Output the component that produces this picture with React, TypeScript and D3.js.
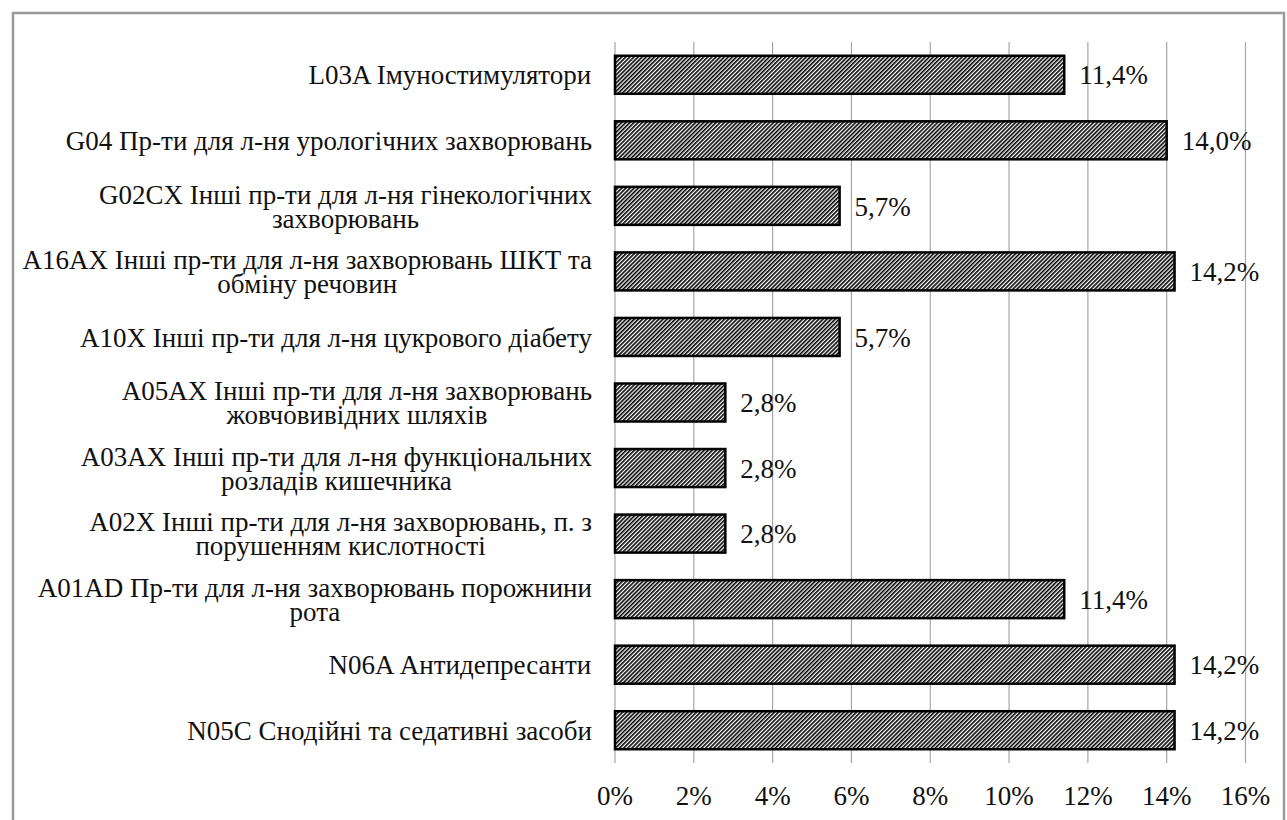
import { useMemo } from "react";
import * as d3 from "d3";

const LABELS: string[][] = [
  ["L03A Імуностимулятори"],
  ["G04 Пр-ти для л-ня урологічних захворювань"],
  ["G02CX Інші пр-ти для л-ня гінекологічних", "захворювань"],
  ["A16AX Інші пр-ти для л-ня захворювань ШКТ та", "обміну речовин"],
  ["A10X Інші пр-ти для л-ня цукрового діабету"],
  ["A05AX Інші пр-ти для л-ня захворювань", "жовчовивідних шляхів"],
  ["A03AX Інші пр-ти для л-ня функціональних", "розладів кишечника"],
  ["A02X Інші пр-ти для л-ня захворювань, п. з", "порушенням кислотності"],
  ["A01AD Пр-ти для л-ня захворювань порожнини", "рота"],
  ["N06A Антидепресанти"],
  ["N05C Снодійні та седативні засоби"],
];

const VALUES = [11.4, 14.0, 5.7, 14.2, 5.7, 2.8, 2.8, 2.8, 11.4, 14.2, 14.2];

const TICKS = [0, 2, 4, 6, 8, 10, 12, 14, 16];

const FONT = '"Liberation Serif"';
const FS = 27;

const W = 1287;
const H = 820;
const m = { top: 42, left: 615, right: 41.5, bottom: 57 };
const iW = W - m.left - m.right;
const iH = H - m.top - m.bottom;

const textStyle = { fontFamily: FONT, fontSize: FS, fill: "#111" } as const;

export default function App() {
  const x = d3.scaleLinear().domain([0, 16]).range([0, iW]);
  const y = d3
    .scaleBand<number>()
    .domain(d3.range(VALUES.length))
    .range([0, iH])
    .paddingInner(0.42)
    .paddingOuter(0.21);

  // measure label lines so multi-line blocks can be centred and right-aligned
  const widths = useMemo(() => {
    const ctx = document.createElement("canvas").getContext("2d");
    if (!ctx) return LABELS.map(() => 0);
    ctx.font = `${FS}px ${FONT}`;
    return LABELS.map((lines) => d3.max(lines, (ln) => ctx.measureText(ln).width) ?? 0);
  }, []);

  const lineH = 24;
  const labelRight = 592 - m.left;

  return (
    <div style={{ position: "fixed", left: 0, top: 0 }}>
      <svg width={W} height={H} style={{ display: "block", background: "#fff" }}>
        <defs>
          <pattern
            id="hatch"
            patternUnits="userSpaceOnUse"
            width={2.9}
            height={2.9}
            patternTransform="rotate(45)"
          >
            <rect width={2.9} height={2.9} fill="#fff" />
            <rect width={1.6} height={2.9} fill="#000" />
          </pattern>
        </defs>
        <rect x={13} y={13} width={1271} height={840} fill="#fff" stroke="#9a9a9a" strokeWidth={2.5} />
        <g transform={`translate(${m.left},${m.top})`}>
          {TICKS.map((t) => (
            <line key={`g${t}`} x1={x(t)} x2={x(t)} y1={0} y2={iH} stroke="#a6a6a6" strokeWidth={1.2} />
          ))}
          {TICKS.map((t) => (
            <text key={`t${t}`} x={x(t)} y={iH + 42} textAnchor="middle" style={textStyle}>
              {`${t}%`}
            </text>
          ))}
          {VALUES.map((v, i) => (
            <rect
              key={`b${i}`}
              x={0}
              y={y(i) ?? 0}
              width={x(v)}
              height={y.bandwidth()}
              fill="url(#hatch)"
              stroke="#000"
              strokeWidth={2.5}
            />
          ))}
          {VALUES.map((v, i) => (
            <text
              key={`v${i}`}
              x={x(v) + 15}
              y={(y(i) ?? 0) + y.bandwidth() / 2}
              dy="0.36em"
              style={textStyle}
            >
              {`${v.toFixed(1).replace(".", ",")}%`}
            </text>
          ))}
          {LABELS.map((lines, i) => {
            const cy = (y(i) ?? 0) + y.bandwidth() / 2;
            const cx = labelRight - widths[i] / 2;
            return (
              <g key={`l${i}`}>
                {lines.map((ln, k) => (
                  <text
                    key={k}
                    x={cx}
                    y={cy + (k - (lines.length - 1) / 2) * lineH}
                    dy="0.36em"
                    textAnchor="middle"
                    style={textStyle}
                  >
                    {ln}
                  </text>
                ))}
              </g>
            );
          })}
        </g>
      </svg>
    </div>
  );
}
